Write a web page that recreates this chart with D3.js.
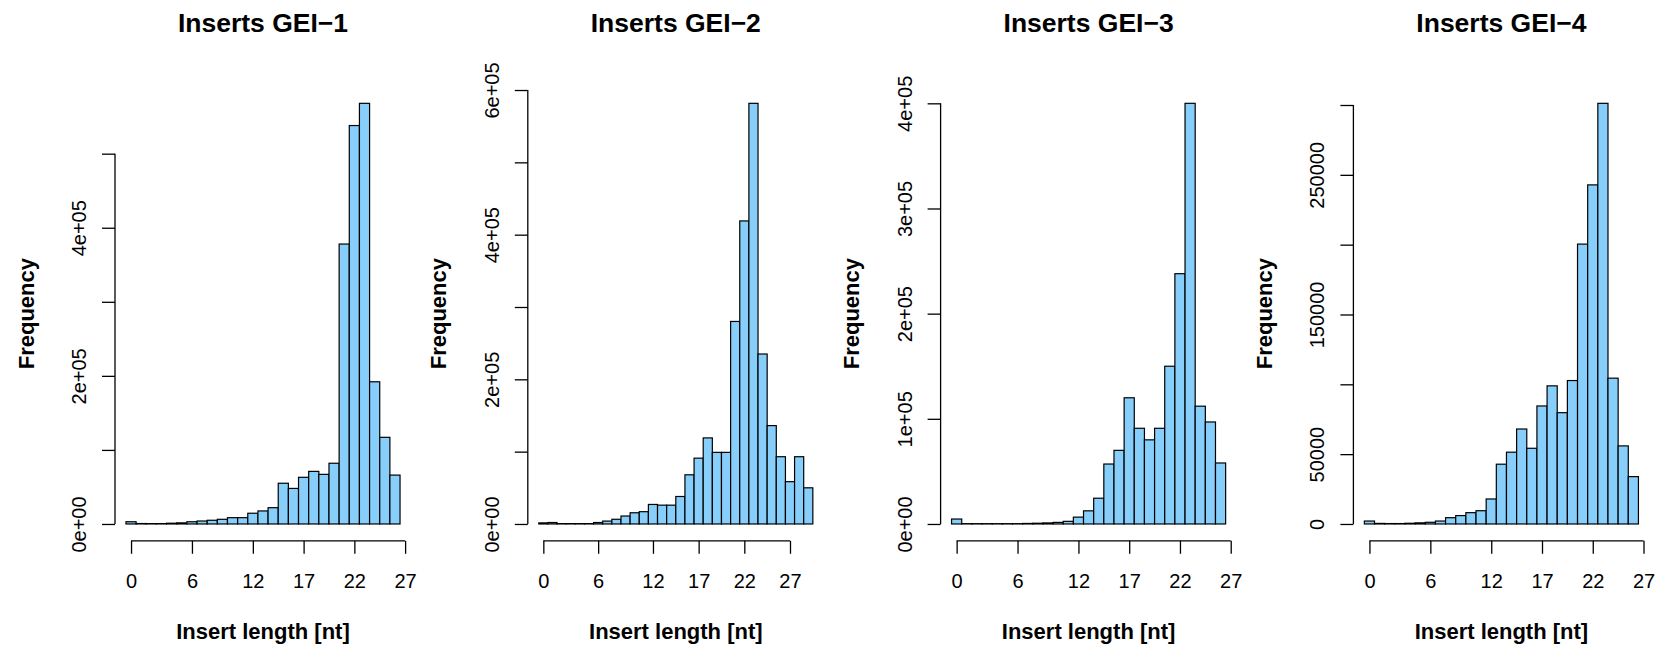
<!DOCTYPE html>
<html>
<head>
<meta charset="utf-8">
<script src="https://cdn.jsdelivr.net/npm/d3@7"></script>
<style>
  html, body { margin: 0; padding: 0; background: #fff; }
  svg { display: block; }
  text { font-family: "Liberation Sans", Arial, Helvetica, sans-serif; fill: #000; }
</style>
</head>
<body>
<svg id="chart" width="1659" height="645"></svg>
<script>
// ---- Data ----
const titles = ["Inserts GEI\u22121", "Inserts GEI\u22122", "Inserts GEI\u22123", "Inserts GEI\u22124"];

const gei1 = [3000, 600, 500, 500, 1000, 1500, 3000, 4000, 5000, 6300, 8500, 8500, 14500, 17600, 22000,
              55000, 48000, 63000, 71000, 67000, 82000, 378000, 538000, 568000, 192000, 117000, 66000];
const gei2 = [1500, 2000, 500, 500, 500, 500, 2000, 4000, 6500, 11000, 15500, 17000, 27000, 26000, 26000,
              38000, 68000, 91000, 119000, 99000, 99000, 280000, 419000, 581600, 235000, 136000, 93000,
              58500, 93000, 50000];
const gei3 = [4700, 300, 300, 300, 300, 300, 300, 500, 700, 1000, 1500, 2500, 6500, 12500, 24500,
              57000, 70000, 120000, 91000, 80000, 91000, 150000, 238000, 400000, 112000, 97000, 58000];
const gei4 = [2100, 400, 300, 300, 500, 800, 1200, 2100, 4500, 6000, 8100, 9500, 17900, 42800, 51400,
              68000, 54200, 84500, 98900, 79700, 102700, 200400, 242800, 301200, 104400, 55900, 33900];
const series = [gei1, gei2, gei3, gei4];

const xTicks = [0, 6, 12, 17, 22, 27];
const xTickLabels = ["0", "6", "12", "17", "22", "27"];

const yTicks1 = [0, 100000, 200000, 300000, 400000, 500000];
const yLabels1 = ["0e+00", "", "2e+05", "", "4e+05", ""];
const yTicks2 = [0, 100000, 200000, 300000, 400000, 500000, 600000];
const yLabels2 = ["0e+00", "", "2e+05", "", "4e+05", "", "6e+05"];
const yTicks3 = [0, 100000, 200000, 300000, 400000];
const yLabels3 = ["0e+00", "1e+05", "2e+05", "3e+05", "4e+05"];
const yTicks4 = [0, 50000, 100000, 150000, 200000, 250000, 300000];
const yLabels4 = ["0", "50000", "", "150000", "", "250000", ""];
const yTicksAll = [yTicks1, yTicks2, yTicks3, yTicks4];
const yLabelsAll = [yLabels1, yLabels2, yLabels3, yLabels4];

const xLabel = "Insert length [nt]";
const yLabel = "Frequency";

// ---- Layout ----
const svg = d3.select("#chart");
const plotTop = 86.5, plotBottom = 540.8;
const plotWidth = 296;
const panelStride = 412.8;
const firstLeft = 115;

series.forEach((vals, p) => {
  const left = firstLeft + p * panelStride;
  const right = left + plotWidth;
  const n = vals.length;
  const lo = -0.5, hi = n - 0.5, ext = 0.04 * (hi - lo);
  const x = d3.scaleLinear().domain([lo - ext, hi + ext]).range([left, right]);
  const maxV = d3.max(vals);
  const y = d3.scaleLinear().domain([-0.04 * maxV, 1.04 * maxV]).range([plotBottom, plotTop]);

  const g = svg.append("g");

  // bars
  g.selectAll("rect.bar").data(vals).enter().append("rect")
    .attr("class", "bar")
    .attr("x", (d, i) => x(i - 0.5))
    .attr("width", (d, i) => x(i + 0.5) - x(i - 0.5))
    .attr("y", d => y(d))
    .attr("height", d => y(0) - y(d))
    .attr("fill", "#87CEFA")
    .attr("stroke", "#000")
    .attr("stroke-width", 1.2);

  // x axis
  const xa = d3.axisBottom(x).tickValues(xTicks)
    .tickFormat((d, i) => xTickLabels[i])
    .tickSize(13).tickSizeOuter(0).tickPadding(20);
  const gx = g.append("g").attr("transform", `translate(0,${plotBottom})`).call(xa);
  gx.select(".domain").remove();
  gx.append("line")
    .attr("x1", x(xTicks[0])).attr("x2", x(xTicks[xTicks.length - 1]))
    .attr("y1", 0).attr("y2", 0)
    .attr("stroke", "#000").attr("stroke-width", 1.3);
  gx.selectAll(".tick line").attr("stroke", "#000").attr("stroke-width", 1.3);
  gx.selectAll(".tick text").style("font-size", "20px").attr("fill", "#000")
    .style("font-family", '"Liberation Sans", Arial, sans-serif');

  // y axis
  const yt = yTicksAll[p], yl = yLabelsAll[p];
  const ya = d3.axisLeft(y).tickValues(yt)
    .tickFormat((d, i) => yl[i])
    .tickSize(13).tickSizeOuter(0);
  const gy = g.append("g").attr("transform", `translate(${left},0)`).call(ya);
  gy.select(".domain").remove();
  gy.append("line")
    .attr("x1", 0).attr("x2", 0)
    .attr("y1", y(yt[0])).attr("y2", y(yt[yt.length - 1]))
    .attr("stroke", "#000").attr("stroke-width", 1.3);
  gy.selectAll(".tick line").attr("stroke", "#000").attr("stroke-width", 1.3);
  gy.selectAll(".tick text")
    .attr("x", null).attr("dy", null)
    .attr("text-anchor", "middle")
    .attr("transform", "translate(-29,0) rotate(-90)")
    .style("font-size", "20px").attr("fill", "#000")
    .style("font-family", '"Liberation Sans", Arial, sans-serif');

  // title
  g.append("text")
    .attr("x", (left + right) / 2).attr("y", 31.5)
    .attr("text-anchor", "middle")
    .style("font-size", "26.5px").style("font-weight", "bold")
    .text(titles[p]);

  // x label
  g.append("text")
    .attr("x", (left + right) / 2).attr("y", 638.5)
    .attr("text-anchor", "middle")
    .style("font-size", "22px").style("font-weight", "bold")
    .text(xLabel);

  // y label
  g.append("text")
    .attr("transform", `translate(${left - 81.5},${(plotTop + plotBottom) / 2}) rotate(-90)`)
    .attr("text-anchor", "middle")
    .style("font-size", "22px").style("font-weight", "bold")
    .text(yLabel);
});
</script>
</body>
</html>
